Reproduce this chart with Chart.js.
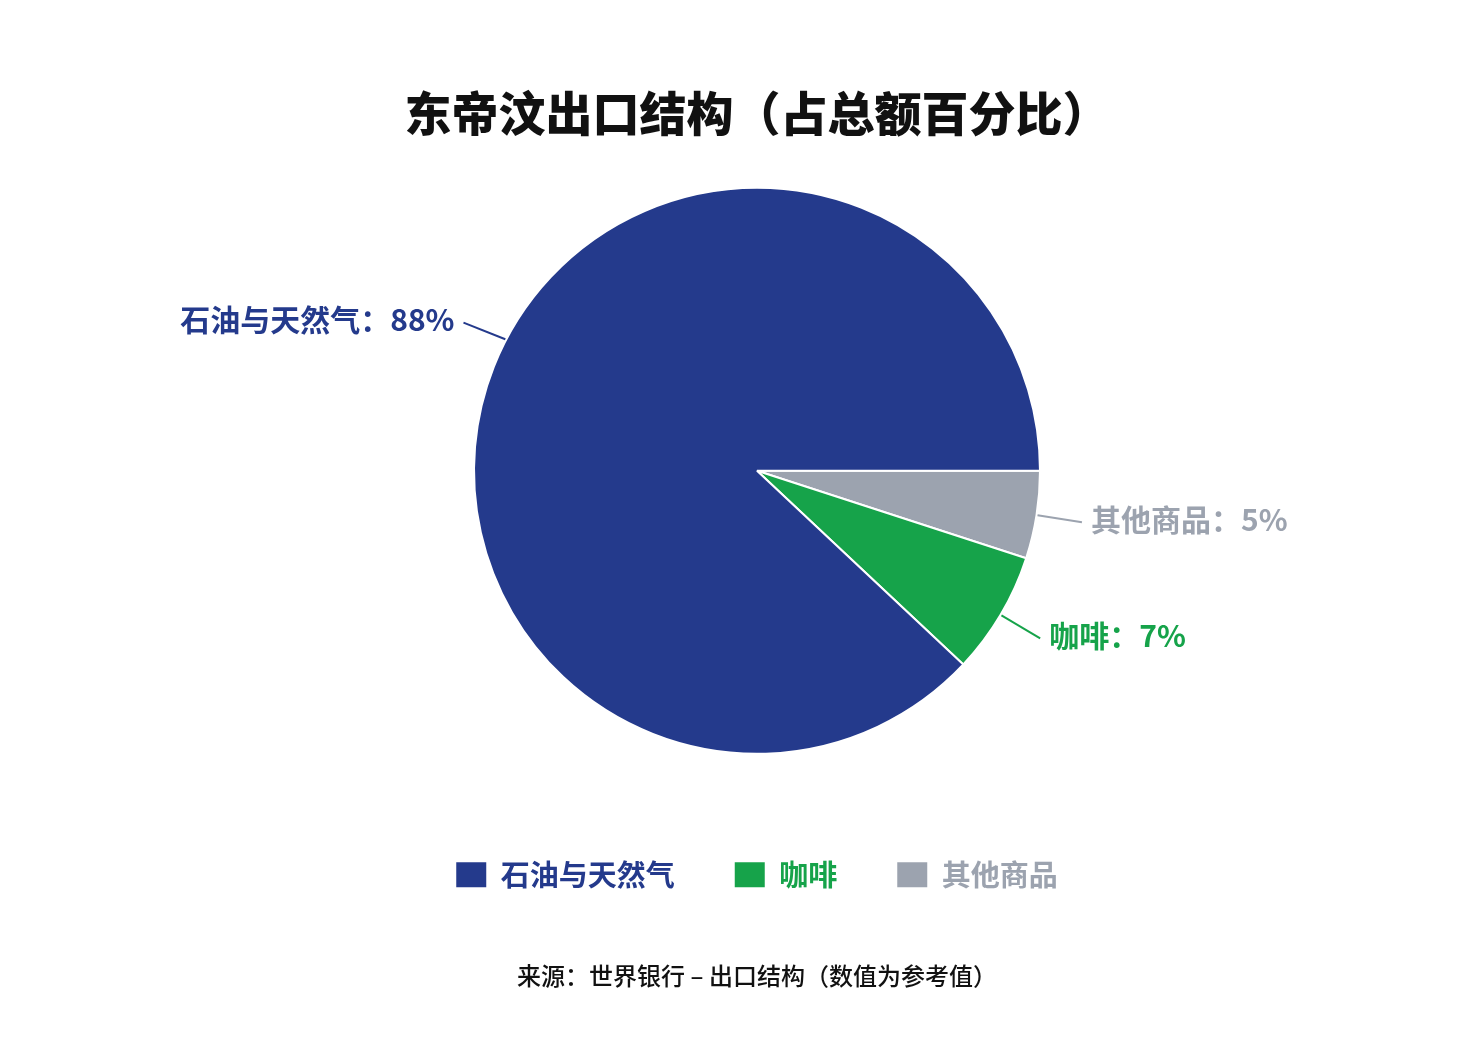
<!DOCTYPE html>
<html lang="zh">
<head>
<meta charset="utf-8">
<title>东帝汶出口结构</title>
<script src="https://cdn.jsdelivr.net/npm/chart.js@4.4.1/dist/chart.umd.min.js"></script>
<style>
  html, body { margin: 0; padding: 0; background: #ffffff; }
  #wrap { width: 1484px; height: 1060px; }
</style>
</head>
<body>
<div id="wrap"><canvas id="exportChart"></canvas></div>
<script>
const categories = ["石油与天然气", "咖啡", "其他商品"];
const shares = [88, 7, 5];
const sliceColors = ["#243a8c", "#16a34a", "#9ca3af"];
const titleText = "东帝汶出口结构（占总额百分比）";
const sourceText = "来源：世界银行 – 出口结构（数值为参考值）";

const FONT = '"Noto Sans CJK SC", "Noto Sans", sans-serif';

// slices run clockwise from 3 o'clock: others, coffee, oil
const plotOrder = [2, 1, 0];

const leaderLabels = {
  id: "leaderLabels",
  afterDatasetsDraw(chart, args, opts) {
    const ctx = chart.ctx;
    const meta = chart.getDatasetMeta(0);
    meta.data.forEach(function (arc, i) {
      const k = plotOrder[i];
      const p = arc.getProps(["x", "y", "startAngle", "endAngle", "outerRadius"], true);
      const mid = (p.startAngle + p.endAngle) / 2;
      const anchor = mid + (opts.shift[k] || 0) * Math.PI / 180;
      const sx = p.x + Math.cos(anchor) * (p.outerRadius + 1);
      const sy = p.y + Math.sin(anchor) * (p.outerRadius + 1);
      const ex = sx + Math.cos(mid) * opts.length;
      const ey = sy + Math.sin(mid) * opts.length;
      const right = Math.cos(mid) >= 0;

      ctx.save();
      ctx.strokeStyle = sliceColors[k];
      ctx.lineWidth = 2;
      ctx.beginPath();
      ctx.moveTo(sx, sy);
      ctx.lineTo(ex, ey);
      ctx.stroke();

      ctx.fillStyle = sliceColors[k];
      ctx.font = "bold 30px " + FONT;
      ctx.textBaseline = "middle";
      ctx.textAlign = right ? "left" : "right";
      const tx = ex + (right ? opts.gap : -opts.gap);
      ctx.fillText(categories[k] + "：" + shares[k] + "%", tx, ey - 3);
      ctx.restore();
    });
  }
};

new Chart(document.getElementById("exportChart"), {
  type: "pie",
  data: {
    labels: plotOrder.map((k) => categories[k]),
    datasets: [
      {
        data: plotOrder.map((k) => shares[k]),
        backgroundColor: plotOrder.map((k) => sliceColors[k]),
        borderColor: "#ffffff",
        borderWidth: 2,
        hoverOffset: 0,
      },
    ],
  },
  options: {
    responsive: true,
    maintainAspectRatio: false,
    animation: false,
    rotation: 90,
    radius: 283,
    layout: { padding: { left: 30, right: 0, top: 0, bottom: 0 } },
    plugins: {
      title: {
        display: true,
        text: titleText,
        color: "#111111",
        font: { family: FONT, size: 47, weight: "900", lineHeight: 1.2 },
        padding: { top: 85, bottom: 0 },
      },
      subtitle: {
        display: true,
        position: "bottom",
        text: sourceText,
        color: "#111111",
        font: { family: FONT, size: 24, weight: "500", lineHeight: 1.2 },
        padding: { top: 62, bottom: 70 },
      },
      legend: {
        position: "bottom",
        labels: {
          boxWidth: 30,
          boxHeight: 25,
          padding: 60,
          font: { family: FONT, size: 29, weight: "bold" },
          generateLabels: function () {
            return categories.map((name, k) => ({
              text: name,
              fillStyle: sliceColors[k],
              strokeStyle: sliceColors[k],
              fontColor: sliceColors[k],
              lineWidth: 0,
              hidden: false,
              index: plotOrder.indexOf(k),
            }));
          },
        },
      },
      tooltip: { enabled: false },
      leaderLabels: { length: 45, gap: 9, shift: [6, 0, 0] },
    },
  },
  plugins: [leaderLabels],
});
</script>
</body>
</html>
